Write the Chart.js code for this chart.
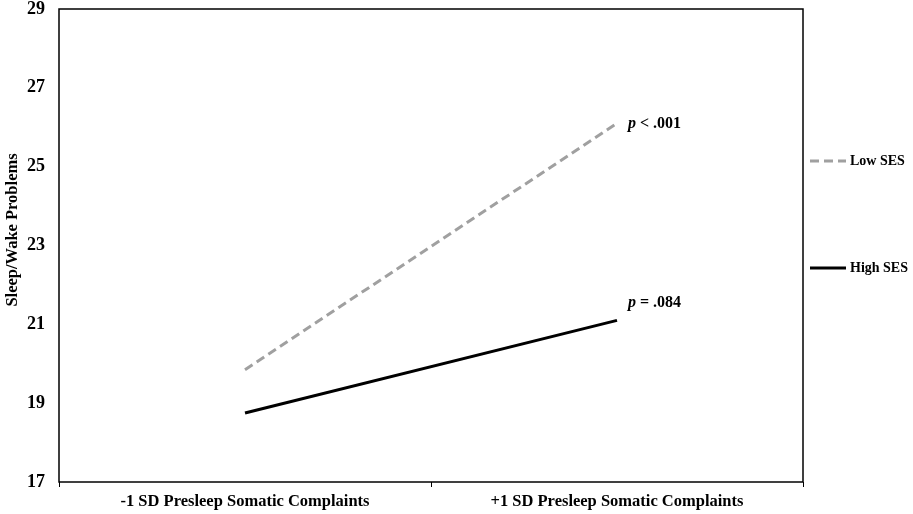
<!DOCTYPE html>
<html>
<head>
<meta charset="utf-8">
<script src="https://cdn.jsdelivr.net/npm/chart.js@4"></script>
<style>
  html, body { margin: 0; padding: 0; background: #fff; }
  #wrap { width: 913px; height: 514px; }
</style>
</head>
<body>
<div id="wrap"><canvas id="chart" width="913" height="514"></canvas></div>
<script>
const categories = ['-1 SD Presleep Somatic Complaints', '+1 SD Presleep Somatic Complaints'];
const lowSES = [19.85, 26.1];
const highSES = [18.75, 21.1];
const seriesNames = ['Low SES', 'High SES'];
const pLabels = [['p', ' < .001'], ['p', ' = .084']];
const yTicks = [17, 19, 21, 23, 25, 27, 29];
const yTitle = 'Sleep/Wake Problems';

const font = 'Liberation Serif';

// frame, y title, p-values and the legend on the right
const extras = {
  id: 'extras',
  afterDraw(chart) {
    const ctx = chart.ctx;
    const a = chart.chartArea;
    ctx.save();
    ctx.strokeStyle = '#000';
    ctx.lineWidth = 1.5;
    ctx.strokeRect(a.left, a.top, a.right - a.left, a.bottom - a.top);

    ctx.fillStyle = '#000';
    ctx.textBaseline = 'middle';

    ctx.save();
    ctx.translate(13, 230);
    ctx.rotate(-Math.PI / 2);
    ctx.textAlign = 'center';
    ctx.font = 'bold 16.5px ' + font;
    ctx.fillText(yTitle, 0, 0);
    ctx.restore();

    const pShift = [1, -18];
    chart.data.datasets.forEach((ds, i) => {
      const meta = chart.getDatasetMeta(i);
      const last = meta.data[meta.data.length - 1];
      let x = last.x + 11;
      const y = last.y + pShift[i];
      ctx.font = 'italic bold 16px ' + font;
      ctx.fillText(pLabels[i][0], x, y);
      x += ctx.measureText(pLabels[i][0]).width;
      ctx.font = 'bold 16px ' + font;
      ctx.fillText(pLabels[i][1], x, y);
    });

    const legendY = [161, 268];
    chart.data.datasets.forEach((ds, i) => {
      const y = legendY[i];
      ctx.beginPath();
      ctx.strokeStyle = ds.borderColor;
      ctx.lineWidth = ds.borderWidth;
      ctx.setLineDash(ds.borderDash || []);
      ctx.moveTo(810, y);
      ctx.lineTo(846, y);
      ctx.stroke();
      ctx.setLineDash([]);
      ctx.font = 'bold 14px ' + font;
      ctx.fillText(ds.label, 850, y);
    });
    ctx.restore();
  }
};

new Chart(document.getElementById('chart'), {
  type: 'line',
  data: {
    labels: categories,
    datasets: [
      {
        label: seriesNames[0],
        data: lowSES,
        borderColor: '#a0a0a0',
        borderWidth: 3,
        borderDash: [9, 5],
        pointRadius: 0,
        fill: false
      },
      {
        label: seriesNames[1],
        data: highSES,
        borderColor: '#000',
        borderWidth: 3,
        pointRadius: 0,
        fill: false
      }
    ]
  },
  options: {
    responsive: false,
    animation: false,
    layout: { padding: { top: 9, right: 110, bottom: 0, left: 0 } },
    plugins: {
      legend: { display: false },
      tooltip: { enabled: false }
    },
    scales: {
      x: {
        offset: true,
        border: { display: false },
        grid: { offset: true, drawOnChartArea: false, drawTicks: true, tickLength: 5, color: '#000', lineWidth: 1 },
        ticks: { color: '#000', padding: 5, maxRotation: 0, font: { family: font, weight: 'bold', size: 16.5 } },
        afterFit(scale) { scale.height = 32; scale.paddingLeft = 0; scale.paddingRight = 0; }
      },
      y: {
        min: 17,
        max: 29,
        afterBuildTicks(scale) { scale.ticks = yTicks.map(v => ({ value: v })); },
        border: { display: false },
        grid: { display: false, drawTicks: false },
        ticks: { color: '#000', padding: 14, font: { family: font, weight: 'bold', size: 18 } },
        afterFit(scale) { scale.width = 59; scale.paddingTop = 0; scale.paddingBottom = 0; }
      }
    }
  },
  plugins: [extras]
});
</script>
</body>
</html>
